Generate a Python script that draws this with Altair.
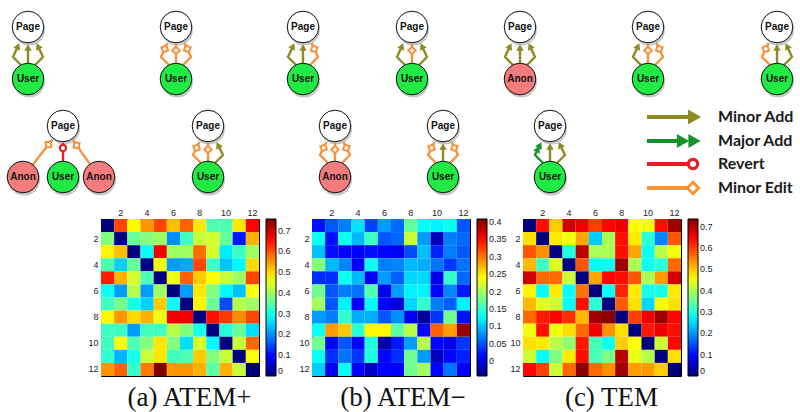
import math
import altair as alt
import pandas as pd

# ------------------------------------------------------------------ data
# 12 x 12 transition matrices (rows top->bottom, columns left->right)
ATEM_PLUS = [
    [0.00, 0.61, 0.475, 0.55, 0.61, 0.52, 0.59, 0.49, 0.34, 0.34, 0.49, 0.66],
    [0.38, 0.00, 0.36, 0.38, 0.40, 0.20, 0.33, 0.43, 0.44, 0.36, 0.11, 0.53],
    [0.48, 0.52, 0.00, 0.29, 0.67, 0.40, 0.40, 0.58, 0.44, 0.27, 0.33, 0.40],
    [0.34, 0.25, 0.36, 0.00, 0.46, 0.21, 0.22, 0.61, 0.33, 0.24, 0.28, 0.50],
    [0.64, 0.53, 0.44, 0.34, 0.00, 0.46, 0.59, 0.51, 0.47, 0.43, 0.40, 0.61],
    [0.29, 0.21, 0.42, 0.21, 0.40, 0.00, 0.21, 0.49, 0.38, 0.28, 0.24, 0.47],
    [0.33, 0.37, 0.30, 0.25, 0.51, 0.29, 0.00, 0.48, 0.36, 0.15, 0.42, 0.40],
    [0.48, 0.55, 0.50, 0.53, 0.46, 0.67, 0.67, 0.00, 0.65, 0.62, 0.56, 0.61],
    [0.33, 0.33, 0.21, 0.33, 0.33, 0.42, 0.38, 0.30, 0.00, 0.31, 0.36, 0.26],
    [0.33, 0.47, 0.34, 0.38, 0.49, 0.38, 0.26, 0.44, 0.28, 0.00, 0.43, 0.585],
    [0.32, 0.23, 0.30, 0.43, 0.49, 0.33, 0.34, 0.51, 0.38, 0.43, 0.00, 0.47],
    [0.55, 0.59, 0.32, 0.57, 0.76, 0.55, 0.55, 0.53, 0.35, 0.53, 0.43, 0.00],
]
ATEM_MINUS = [
    [0.021, 0.052, 0.069, 0.114, 0.043, 0.083, 0.060, 0.171, 0.127, 0.122, 0.131, 0.052],
    [0.131, 0.021, 0.131, 0.096, 0.153, 0.052, 0.060, 0.215, 0.083, -0.015, 0.069, 0.060],
    [0.100, 0.021, 0.016, 0.012, 0.021, 0.016, 0.007, 0.047, 0.100, 0.029, 0.069, 0.052],
    [0.185, 0.096, 0.074, 0.012, 0.131, 0.069, 0.074, 0.096, 0.091, 0.065, 0.038, 0.065],
    [0.034, 0.034, 0.131, 0.096, 0.012, 0.083, 0.056, 0.109, 0.109, 0.007, 0.149, 0.060],
    [0.176, 0.052, 0.069, 0.065, 0.162, 0.007, 0.083, 0.122, 0.122, 0.016, 0.074, 0.025],
    [0.198, 0.052, 0.122, 0.012, 0.127, 0.016, -0.002, 0.109, 0.149, 0.069, 0.056, 0.122],
    [0.083, 0.069, 0.149, 0.091, 0.091, 0.052, 0.078, 0.007, -0.028, 0.038, 0.176, 0.021],
    [0.131, 0.282, 0.264, 0.145, 0.242, 0.242, 0.167, 0.207, 0.016, 0.309, 0.282, 0.397],
    [0.176, 0.016, 0.052, 0.016, 0.140, -0.024, 0.025, 0.083, 0.207, 0.016, 0.003, 0.038],
    [0.131, 0.034, 0.065, 0.038, 0.140, 0.016, 0.034, 0.176, 0.083, -0.015, 0.016, 0.029],
    [0.105, 0.007, 0.131, 0.012, -0.010, 0.016, 0.012, 0.176, 0.198, 0.016, 0.065, 0.012],
]
TEM = [
    [0.000, 0.635, 0.496, 0.679, 0.657, 0.599, 0.642, 0.657, 0.460, 0.453, 0.635, 0.715],
    [0.482, 0.000, 0.475, 0.453, 0.526, 0.241, 0.400, 0.635, 0.475, 0.307, 0.190, 0.584],
    [0.584, 0.540, 0.000, 0.300, 0.694, 0.400, 0.400, 0.635, 0.526, 0.285, 0.409, 0.453],
    [0.511, 0.321, 0.438, 0.000, 0.584, 0.277, 0.285, 0.715, 0.400, 0.285, 0.307, 0.569],
    [0.679, 0.569, 0.569, 0.423, 0.000, 0.526, 0.642, 0.635, 0.584, 0.400, 0.533, 0.679],
    [0.467, 0.277, 0.475, 0.277, 0.562, 0.000, 0.285, 0.620, 0.475, 0.292, 0.292, 0.475],
    [0.511, 0.438, 0.423, 0.277, 0.635, 0.307, 0.000, 0.577, 0.482, 0.248, 0.453, 0.482],
    [0.569, 0.628, 0.642, 0.613, 0.511, 0.715, 0.730, 0.000, 0.599, 0.657, 0.715, 0.642],
    [0.453, 0.635, 0.453, 0.482, 0.569, 0.657, 0.540, 0.482, 0.000, 0.628, 0.657, 0.635],
    [0.482, 0.475, 0.409, 0.380, 0.628, 0.328, 0.285, 0.496, 0.460, 0.000, 0.423, 0.642],
    [0.423, 0.277, 0.365, 0.475, 0.635, 0.328, 0.365, 0.694, 0.445, 0.409, 0.000, 0.482],
    [0.642, 0.599, 0.423, 0.569, 0.730, 0.569, 0.540, 0.715, 0.533, 0.533, 0.496, 0.000],
]
MATRICES = [ATEM_PLUS, ATEM_MINUS, TEM]
CAPTIONS = ["(a) ATEM+", "(b) ATEM\u2212", "(c) TEM"]
AXIS_TICKS = [2, 4, 6, 8, 10, 12]
COLORBAR_TICKS = [
    [0, 0.1, 0.2, 0.3, 0.4, 0.5, 0.6, 0.7],
    [0, 0.05, 0.1, 0.15, 0.2, 0.25, 0.3, 0.35, 0.4],
    [0, 0.1, 0.2, 0.3, 0.4, 0.5, 0.6, 0.7],
]
COLOR_LIMITS = [(0.0, 0.756), (-0.042, 0.408), (0.0, 0.737)]

# diagram nodes
NODE_LABEL = ["Page", "User", "Page", "User", "Page", "User", "Page", "User",
              "Page", "Anon", "Page", "User", "Page", "User",
              "Page", "Anon", "User", "Anon", "Page", "User", "Page", "Anon",
              "Page", "User", "Page", "User"]
NODE_X = [28, 28, 176, 176, 303, 303, 412, 412, 520, 520, 648, 648, 777, 777,
          63, 23, 63, 99, 208, 208, 335, 335, 443, 443, 550, 550]
NODE_Y = [27, 79, 27, 79, 27, 79, 27, 79, 27, 79, 27, 79, 27, 79,
          126, 177, 177, 177, 126, 177, 126, 177, 126, 177, 126, 177]
# diagram edges: (from node, to node, slot, edit type)
EDGES = [
    (1, 0, "L", "add"), (1, 0, "M", "add"), (1, 0, "R", "add"),
    (3, 2, "L", "edit"), (3, 2, "M", "edit"), (3, 2, "R", "edit"),
    (5, 4, "L", "add"), (5, 4, "M", "add"), (5, 4, "R", "edit"),
    (7, 6, "L", "add"), (7, 6, "M", "edit"), (7, 6, "R", "add"),
    (9, 8, "L", "add"), (9, 8, "M", "add"), (9, 8, "R", "add"),
    (11, 10, "L", "add"), (11, 10, "M", "edit"), (11, 10, "R", "edit"),
    (13, 12, "L", "edit"), (13, 12, "M", "add"), (13, 12, "R", "add"),
    (15, 14, "D", "edit"), (16, 14, "M", "revert"), (17, 14, "D", "edit"),
    (19, 18, "L", "edit"), (19, 18, "M", "edit"), (19, 18, "R", "add"),
    (21, 20, "L", "edit"), (21, 20, "M", "edit"), (21, 20, "R", "edit"),
    (23, 22, "L", "edit"), (23, 22, "M", "add"), (23, 22, "R", "edit"),
    (25, 24, "L", "major"), (25, 24, "M", "add"), (25, 24, "R", "add"),
]
LEGEND_TYPES = ["add", "major", "revert", "edit"]
LEGEND_LABELS = ["Minor Add", "Major Add", "Revert", "Minor Edit"]

# ------------------------------------------------------------------ styles
EDGE_COLOR = {"add": "#8E8B24", "major": "#16922A", "revert": "#EC1C24", "edit": "#F8913A"}
NODE_COLOR = {"Page": "#FFFFFF", "User": "#22EA44", "Anon": "#F47C7C"}
JET = ["#00007F", "#0000FF", "#00FFFF", "#FFFF00", "#FF0000", "#7F0000"]
JET_POS = [0, 0.125, 0.375, 0.625, 0.875, 1.0]
SANS = "Liberation Sans"
NO_FRAME = alt.ViewBackground(stroke="transparent", strokeWidth=0)

W, H1 = 800, 200
LEG_Y = [117, 141, 164, 188]
LEG_X0, LEG_X1, LEG_TX = 647, 702, 718

# ------------------------------------------------------------------ diagram geometry
def edge_path(u, p, slot):
    ux, uy = u
    px, py = p
    if slot == "M":
        return [(ux, uy - 16), (px, py + 17)]
    if slot in ("L", "R"):
        s = -1 if slot == "L" else 1
        return [(ux + 7 * s, uy - 14), (ux + 15 * s, uy - 22), (px + 8.5 * s, py + 16)]
    dx, dy = px - ux, py - uy
    d = math.hypot(dx, dy)
    ex, ey = dx / d, dy / d
    return [(ux + 16 * ex, uy + 16 * ey), (px - 17 * ex, py - 17 * ey)]


line_rows, tri_rows, ring_rows = [], [], []
for k, (ui, pi, slot, et) in enumerate(EDGES):
    pts = edge_path((NODE_X[ui], NODE_Y[ui]), (NODE_X[pi], NODE_Y[pi]), slot)
    (x0, y0), (x1, y1) = pts[-2], pts[-1]
    d = math.hypot(x1 - x0, y1 - y0)
    ex, ey = (x1 - x0) / d, (y1 - y0) / d
    ang = math.degrees(math.atan2(ex, -ey)) % 360
    col = EDGE_COLOR[et]
    if et in ("add", "major"):
        pts[-1] = (x1 - 4 * ex, y1 - 4 * ey)
        tri_rows.append(dict(x=x1 - 3.5 * ex, y=y1 - 3.5 * ey, a=ang, c=col, s=55))
        if et == "major":
            tri_rows.append(dict(x=x1 - 8 * ex, y=y1 - 8 * ey, a=ang, c=col, s=55))
    elif et == "edit":
        ring_rows.append(dict(x=x1 - 6.5 * ex, y=y1 - 6.5 * ey, a=ang, c=col,
                              s=55, sh="diamond", sw=2))
    else:
        ring_rows.append(dict(x=x1 - 5 * ex, y=y1 - 5 * ey, a=0, c=col,
                              s=38, sh="circle", sw=2.2))
    for o, (x, y) in enumerate(pts):
        line_rows.append(dict(eid=k, o=o, x=x, y=y, c=col, w=2.4))

# legend on the right of the diagrams
for i, (et, ly) in enumerate(zip(LEGEND_TYPES, LEG_Y)):
    col = EDGE_COLOR[et]
    if et == "add":
        end = LEG_X1 - 12
        tri_rows.append(dict(x=LEG_X1 - 7.5, y=ly, a=90, c=col, s=230))
    elif et == "major":
        end = LEG_X1 - 20
        tri_rows.append(dict(x=LEG_X1 - 7.5, y=ly, a=90, c=col, s=200))
        tri_rows.append(dict(x=LEG_X1 - 19, y=ly, a=90, c=col, s=200))
    elif et == "revert":
        end = LEG_X1 - 9
        ring_rows.append(dict(x=LEG_X1 - 9, y=ly, a=0, c=col, s=85, sh="circle", sw=3.2))
    else:
        end = LEG_X1 - 9
        ring_rows.append(dict(x=LEG_X1 - 9, y=ly, a=90, c=col, s=130, sh="diamond", sw=3))
    line_rows.append(dict(eid=100 + i, o=0, x=LEG_X0, y=ly, c=col, w=4))
    line_rows.append(dict(eid=100 + i, o=1, x=end, y=ly, c=col, w=4))

nodes = pd.DataFrame(dict(x=NODE_X, y=NODE_Y, label=NODE_LABEL,
                          c=[NODE_COLOR[l] for l in NODE_LABEL]))
shadow = nodes.assign(x=nodes.x + 1.2, y=nodes.y + 2.8)
lines = pd.DataFrame(line_rows)
tris = pd.DataFrame(tri_rows)
rings = pd.DataFrame(ring_rows)
legtext = pd.DataFrame(dict(x=[LEG_TX] * 4, y=LEG_Y, t=LEGEND_LABELS))

xs = alt.Scale(domain=[0, W])
ys = alt.Scale(domain=[0, H1], reverse=True)


def X(f="x"):
    return alt.X(f + ":Q", scale=xs, axis=None)


def Y(f="y"):
    return alt.Y(f + ":Q", scale=ys, axis=None)


shadow_l = alt.Chart(shadow).mark_point(filled=True, shape="circle", size=1000,
                                        color="#000000", opacity=0.22).encode(x=X(), y=Y())
line_l = alt.Chart(lines).mark_line(strokeCap="butt", strokeJoin="round").encode(
    x=X(), y=Y(), detail="eid:N", order="o:Q",
    color=alt.Color("c:N", scale=None),
    strokeWidth=alt.StrokeWidth("w:Q", scale=None))
tri_l = alt.Chart(tris).mark_point(filled=True, shape="triangle-up", opacity=1).encode(
    x=X(), y=Y(), angle=alt.Angle("a:Q", scale=None),
    size=alt.Size("s:Q", scale=None), color=alt.Color("c:N", scale=None))
ring_l = alt.Chart(rings).mark_point(filled=False, fill="#FFFFFF", opacity=1).encode(
    x=X(), y=Y(), angle=alt.Angle("a:Q", scale=None),
    shape=alt.Shape("sh:N", scale=None),
    size=alt.Size("s:Q", scale=None),
    stroke=alt.Stroke("c:N", scale=None),
    strokeWidth=alt.StrokeWidth("sw:Q", scale=None))
node_l = alt.Chart(nodes).mark_point(shape="circle", size=1000, stroke="#111111",
                                     strokeWidth=1, opacity=1).encode(
    x=X(), y=Y(), fill=alt.Fill("c:N", scale=None))
text_l = alt.Chart(nodes).mark_text(font=SANS, fontSize=10, fontWeight="bold",
                                    color="#111111", baseline="middle").encode(
    x=X(), y=Y(), text="label:N")
legtext_l = alt.Chart(legtext).mark_text(font="Lato", fontSize=16, fontWeight="bold",
                                         color="#1A1A1A", align="left",
                                         baseline="middle").encode(
    x=X(), y=Y(), text="t:N")

top = alt.layer(shadow_l, line_l, tri_l, ring_l, node_l, text_l, legtext_l).properties(
    width=W, height=H1, view=NO_FRAME)

# ------------------------------------------------------------------ heatmaps
HM_W, HM_H = 158, 157


def heatmap(mat, lim, ticks, caption):
    rows = [dict(row=i + 1, col=j + 1, v=v)
            for i, r in enumerate(mat) for j, v in enumerate(r)]
    lo, hi = lim
    stops = [lo + (hi - lo) * f for f in JET_POS]
    axis_common = dict(values=AXIS_TICKS, title=None, ticks=False, domain=False,
                       labelFont=SANS, labelFontSize=9, labelColor="#222222",
                       labelAngle=0)
    return alt.Chart(pd.DataFrame(rows)).mark_rect().encode(
        x=alt.X("col:O", scale=alt.Scale(paddingInner=0, paddingOuter=0),
                axis=alt.Axis(orient="top", labelPadding=2, **axis_common)),
        y=alt.Y("row:O", scale=alt.Scale(paddingInner=0, paddingOuter=0),
                axis=alt.Axis(orient="left", labelPadding=3, **axis_common)),
        color=alt.Color("v:Q",
                        scale=alt.Scale(domain=stops, range=JET, interpolate="rgb",
                                        clamp=True, zero=False, nice=False),
                        legend=alt.Legend(title=None, orient="right", direction="vertical",
                                          gradientLength=HM_H, gradientThickness=10,
                                          values=ticks, format=".2~f",
                                          labelFont=SANS, labelFontSize=9,
                                          labelColor="#222222", labelOffset=2,
                                          labelOverlap=False, offset=7, padding=0,
                                          gradientStrokeColor="#000000",
                                          gradientStrokeWidth=1)),
    ).properties(
        width=HM_W, height=HM_H,
        view=alt.ViewBackground(stroke="#000000", strokeWidth=1),
        title=alt.TitleParams(caption, orient="bottom", anchor="middle",
                              font="Liberation Serif", fontSize=27, fontWeight="normal",
                              color="#111111", offset=8, frame="bounds"),
    )


spacer = alt.Chart(pd.DataFrame({"v": [0]})).mark_point(opacity=0).encode(
    x=alt.X("v:Q", axis=None), y=alt.Y("v:Q", axis=None)).properties(
    width=48, height=HM_H, view=NO_FRAME)

maps = [heatmap(m, l, t, c) for m, l, t, c in zip(MATRICES, COLOR_LIMITS, COLORBAR_TICKS, CAPTIONS)]
bottom = alt.hconcat(spacer, *maps, spacing=53, bounds="flush").resolve_scale(
    color="independent", x="independent", y="independent")

chart = alt.vconcat(top, bottom, spacing=7, padding=0, background="white").configure_view(
    stroke="transparent", strokeWidth=0)

chart.save("out.html", embed_options={"renderer": "svg", "actions": False})
